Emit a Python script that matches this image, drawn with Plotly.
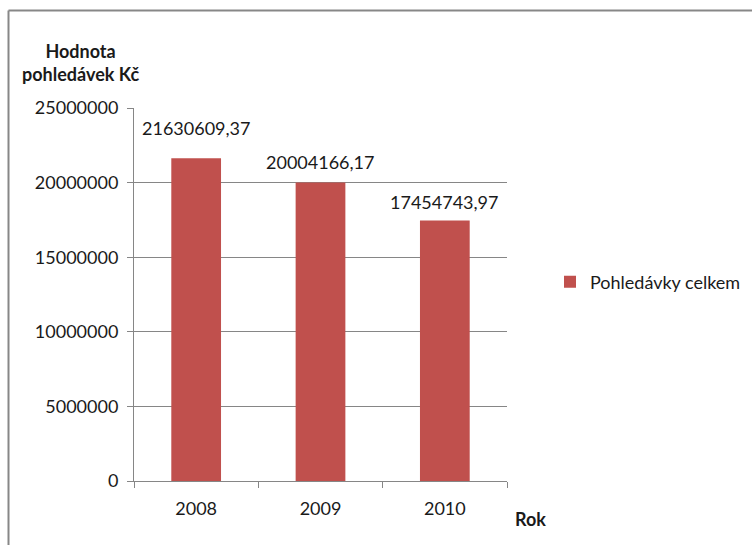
import plotly.graph_objects as go

years = ["2008", "2009", "2010"]
values = [21630609.37, 20004166.17, 17454743.97]
series_name = "Pohledávky celkem"
y_tick_vals = [0, 5000000, 10000000, 15000000, 20000000, 25000000]
y_tick_text = ["0", "5000000", "10000000", "15000000", "20000000", "25000000"]

labels = [f"{v:.2f}".replace(".", ",") for v in values]

FONT = "Lato, Calibri, 'Open Sans', sans-serif"
TXT = "#1a1a1a"
FS = 18
L, R, T, B = 134, 245, 108, 64
W, H = 752, 545
pw, ph = W - L - R, H - T - B

fig = go.Figure()
fig.add_trace(go.Bar(
    x=years, y=values, name=series_name,
    marker=dict(color="#C0504D", line=dict(width=0)),
    width=0.4, showlegend=True,
))

label_shift = [30, 21, 19]
for i, (v, t, s) in enumerate(zip(values, labels, label_shift)):
    fig.add_annotation(x=i, y=v, text=t, showarrow=False, yshift=s,
                       xanchor="center", yanchor="middle",
                       font=dict(family=FONT, size=FS, color=TXT))

def px_x(p):
    return (p - L) / pw

def px_y(p):
    return (H - B - p) / ph

# outer chart border (top and left edges visible)
border = dict(color="#878787", width=2)
fig.add_shape(type="line", xref="paper", yref="paper",
              x0=px_x(8.5), x1=px_x(760), y0=px_y(10.5), y1=px_y(10.5),
              line=border, layer="above")
fig.add_shape(type="line", xref="paper", yref="paper",
              x0=px_x(8.5), x1=px_x(8.5), y0=px_y(10.5), y1=px_y(560),
              line=border, layer="above")

fig.add_annotation(xref="paper", yref="paper", x=px_x(80), y=px_y(63),
                   xanchor="center", yanchor="middle",
                   text="<b>Hodnota<br>pohledávek Kč</b>", showarrow=False,
                   font=dict(family=FONT, size=FS, color=TXT), align="center")
fig.add_annotation(xref="paper", yref="paper", x=px_x(530), y=px_y(519),
                   xanchor="center", yanchor="middle",
                   text="<b>Rok</b>", showarrow=False,
                   font=dict(family=FONT, size=FS, color=TXT))

fig.update_layout(
    width=W, height=H,
    margin=dict(l=L, r=R, t=T, b=B, autoexpand=False),
    paper_bgcolor="white", plot_bgcolor="white",
    font=dict(family=FONT, size=FS, color=TXT),
    legend=dict(x=px_x(550), y=px_y(282), xanchor="left", yanchor="middle",
                font=dict(family=FONT, size=FS, color=TXT),
                itemwidth=30, bgcolor="rgba(0,0,0,0)"),
    xaxis=dict(type="category", range=[-0.5, 2.5], showgrid=False, showline=True,
               linecolor="#868686", linewidth=1, ticks="outside",
               tickson="boundaries", ticklen=6, tickcolor="#868686",
               tickangle=0, ticklabelstandoff=11,
               tickfont=dict(family=FONT, size=FS, color=TXT)),
    yaxis=dict(range=[0, 25000000], tickvals=y_tick_vals, ticktext=y_tick_text,
               showgrid=True, gridcolor="#868686", gridwidth=1,
               showline=True, linecolor="#868686", linewidth=1,
               ticks="outside", ticklen=6, tickcolor="#868686",
               zeroline=False, ticklabelstandoff=5,
               tickfont=dict(family=FONT, size=FS, color=TXT)),
)

fig.write_html("out.html")
